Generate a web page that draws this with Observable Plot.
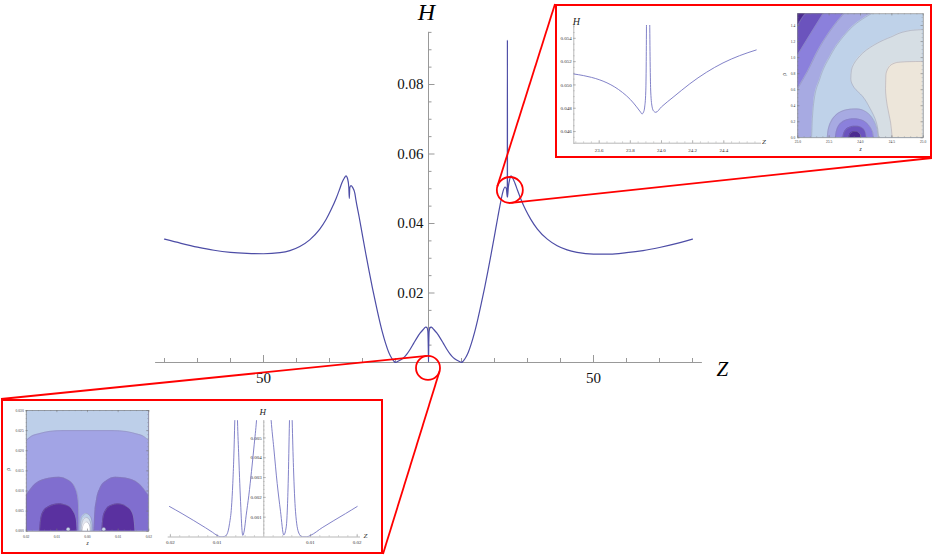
<!DOCTYPE html>
<html><head><meta charset="utf-8">
<script src="https://cdn.jsdelivr.net/npm/d3@7"></script>
<script src="https://cdn.jsdelivr.net/npm/@observablehq/plot@0.6"></script>
<style>
html,body{margin:0;padding:0;background:#fff;}
#stage{position:relative;width:932px;height:555px;overflow:hidden;}
#stage svg{position:absolute;left:0;top:0;}
.box{position:absolute;box-sizing:border-box;border:2px solid #f00;background:#fff;}
</style></head>
<body><div id="stage"></div>
<script>
// ================= DATA =================
// main curve H(Z)
const mainZ = [-80,-75,-70,-65,-60,-55,-50,-45,-42,-39,-36,-33,-31,-29.5,-28,-27,-26.2,-25.5,-25.0,-24.5,-24.15,-24.0,-23.85,-23.5,-23.0,-22.3,
  -22,-21,-20,-19,-18,-17,-16,-15,-14,-13,-12,-11,-10.5,-10,-9.5,-8.5,-7.5,-6.5,-5.5,-4.5,-3.5,-2.5,-1.5,-0.9,-0.5,-0.2,-0.06,0,
  0.06,0.2,0.5,0.9,1.5,2.5,3.5,4.5,5.5,6.5,7.5,8.5,9.5,10,10.5,11,12,13,14,15,16,17,18,19,20,21,22,22.6,23.2,23.6,23.88,23.91,23.94,
  24.2,24.6,25.0,25.5,26.2,27,28,29.5,31,33,36,39,42,45,50,55,60,65,70,75,80];
const mainH = [0.0355,0.0343,0.0332,0.0323,0.0317,0.0314,0.0313,0.0316,0.0322,0.0334,0.0353,0.0383,0.0412,0.0440,0.0472,0.0497,0.0518,0.0531,0.0537,0.0528,0.0505,0.0472,0.0503,0.0509,0.0504,0.0486,
  0.0468,0.0418,0.0365,0.0313,0.0263,0.0215,0.0170,0.0127,0.0088,0.0055,0.0028,0.0010,0.0004,0.0000,0.0002,0.0007,0.0014,0.0025,0.0039,0.0055,0.0071,0.0085,0.0096,0.0102,0.0101,0.0090,0.0040,0.0002,
  0.0040,0.0090,0.0101,0.0102,0.0096,0.0085,0.0071,0.0055,0.0039,0.0025,0.0014,0.0007,0.0002,0.0000,0.0004,0.0010,0.0028,0.0055,0.0088,0.0127,0.0170,0.0215,0.0263,0.0313,0.0365,0.0418,0.0468,0.0493,0.0505,0.0500,0.0476,0.0928,0.0476,
  0.0505,0.0527,0.0537,0.0531,0.0516,0.0495,0.0470,0.0438,0.0412,0.0384,0.0355,0.0336,0.0324,0.0317,0.0312,0.0312,0.0316,0.0322,0.0331,0.0342,0.0355];
const mainXTicks = [-50, 50];
const mainXTickLabels = ["50", "50"];
const mainYTicks = [0.02, 0.04, 0.06, 0.08];
const mainYTickLabels = ["0.02", "0.04", "0.06", "0.08"];

// top-right inset: zoom of H near Z = 23.9
const topZ = [23.437,23.50,23.55,23.60,23.65,23.70,23.75,23.80,23.84,23.865,23.875,23.885,23.892,23.899,23.902,23.904,23.914,23.924,23.927,23.931,23.94,23.95,23.963,24.00,24.074,24.13,24.181,24.288,24.395,24.501,24.608];
const topH = [0.05094,0.05080,0.05065,0.05045,0.05018,0.04982,0.04935,0.04875,0.04812,0.04768,0.04751,0.04768,0.04810,0.04940,0.0520,0.0560,0.0700,0.0560,0.0520,0.04940,0.04810,0.04775,0.04765,0.04812,0.04894,0.04955,0.05009,0.05108,0.05189,0.05251,0.05300];
const topXTicks = [23.6, 23.8, 24.0, 24.2, 24.4];
const topXTickLabels = ["23.6", "23.8", "24.0", "24.2", "24.4"];
const topYTicks = [0.046, 0.048, 0.050, 0.052, 0.054];
const topYTickLabels = ["0.046", "0.048", "0.050", "0.052", "0.054"];

// bottom-left inset: zoom of H near Z = 0
const bottomZ = [-0.0202,-0.0175,-0.0150,-0.0125,-0.0110,-0.0100,-0.0092,-0.0084,-0.00784,-0.00734,-0.00692,-0.00664,-0.00642,-0.00621,-0.0059,-0.00563,-0.00535,-0.00514,-0.00492,-0.00471,-0.0045,-0.0042,-0.00377,-0.0032,-0.00264,-0.00206,-0.00156,-0.0010,0,
  0.0010,0.00158,0.00214,0.00287,0.00358,0.00428,0.0048,0.00522,0.0055,0.0058,0.00608,0.00636,0.00679,0.0075,0.0082,0.0092,0.0100,0.0125,0.0150,0.0175,0.0200];
const bottomH = [0.00154,0.00118,0.00083,0.00047,0.00024,0.00008,0.00001,0.00003,0.00016,0.00067,0.0015,0.00269,0.00403,0.00588,0.0090,0.00588,0.00403,0.00269,0.0015,0.00049,0.00008,0.0003,0.0011,0.00211,0.0033,0.00465,0.00588,0.0080,0.0100,
  0.0080,0.00588,0.0045,0.0027,0.0013,0.0001,0.0005,0.0027,0.00588,0.0090,0.00588,0.0035,0.0013,0.0002,0.00001,0.00001,0.00008,0.00047,0.00083,0.00118,0.00154];
const bottomXTicks = [-0.02, -0.01, 0.01, 0.02];
const bottomXTickLabels = ["0.02", "0.01", "0.01", "0.02"];
const bottomYTicks = [0.001, 0.002, 0.003, 0.004, 0.005];
const bottomYTickLabels = ["0.001", "0.002", "0.003", "0.004", "0.005"];

// top-right contour plot (z, rho) band boundaries
const trDarkest = [[23.0,1.40],[23.053,1.475],[23.122,1.546]];
const trDark = [[23.0,1.034],[23.122,1.192],[23.255,1.359],[23.404,1.546]];
const trMedium = [[23.0,0.611],[23.043,0.673],[23.149,0.818],[23.335,1.109],[23.521,1.338],[23.734,1.546]];
const trLavender = [[23.0,0],[23.218,0],[23.229,0.195],[23.255,0.445],[23.351,0.735],[23.521,1.026],[23.787,1.317],[24.170,1.546]];
const trGrey = [[24.29,0],[24.25,0.20],[24.15,0.37],[24.03,0.52],[23.90,0.625],[23.845,0.735],[23.855,0.84],[23.95,0.985],[24.16,1.13],[24.48,1.255],[24.80,1.338],[25.0,1.35]];
const trBeige = [[24.505,0],[24.479,0.195],[24.426,0.403],[24.399,0.611],[24.404,0.777],[24.452,0.881],[24.559,0.935],[24.745,0.949],[25.0,0.952]];
const trRing1 = [[23.47,0],[23.49,0.12],[23.55,0.23],[23.65,0.31],[23.78,0.35],[23.90,0.36],[24.02,0.35],[24.13,0.30],[24.21,0.22],[24.26,0.12],[24.28,0]];
const trRing2 = [[23.60,0],[23.615,0.08],[23.66,0.16],[23.75,0.215],[23.90,0.237],[24.04,0.215],[24.13,0.16],[24.19,0.08],[24.21,0]];
const trRing3 = [[23.72,0],[23.735,0.06],[23.78,0.11],[23.86,0.14],[23.91,0.145],[23.98,0.14],[24.05,0.11],[24.085,0.06],[24.095,0]];
const trRing4 = [[23.815,0],[23.83,0.045],[23.87,0.073],[23.91,0.079],[23.955,0.073],[23.995,0.045],[24.01,0]];
const trXTicks = [23.0, 23.5, 24.0, 24.5, 25.0];
const trXTickLabels = ["23.0", "23.5", "24.0", "24.5", "25.0"];
const trYTicks = [0, 0.2, 0.4, 0.6, 0.8, 1.0, 1.2, 1.4];
const trYTickLabels = ["0.0", "0.2", "0.4", "0.6", "0.8", "1.0", "1.2", "1.4"];

// bottom-left contour plot (z, rho) band boundaries
const blTop = [[-0.02,0.0225],[-0.0185,0.0235],[-0.0159,0.0242],[-0.0125,0.0248],[-0.008,0.0250],[0,0.0250],[0.008,0.0250],[0.0125,0.0248],[0.0159,0.0242],[0.0185,0.0235],[0.02,0.0225]];
const blMedL = [[-0.02,0.00887],[-0.01696,0.01177],[-0.01261,0.01318],[-0.00935,0.01343],[-0.00609,0.0126],[-0.00391,0.01052],[-0.00304,0.00762],[-0.00287,0.0035],[-0.00283,0]];
const blMedR = [[0.0021,0],[0.0023,0.0035],[0.0029,0.0076],[0.0040,0.0105],[0.0063,0.0126],[0.0091,0.01343],[0.0124,0.0132],[0.0168,0.0118],[0.02,0.00887]];
const blDarkL = [[-0.01565,0],[-0.01533,0.00265],[-0.01457,0.00472],[-0.01261,0.00613],[-0.00935,0.0068],[-0.00663,0.00638],[-0.00467,0.00497],[-0.0037,0.00307],[-0.00337,0]];
const blDarkR = [[0.0047,0],[0.0050,0.0031],[0.0058,0.0050],[0.0076,0.0064],[0.0100,0.0068],[0.0128,0.0061],[0.0145,0.0047],[0.0152,0.0027],[0.0155,0]];
const blRing1 = [[-0.0024,0],[-0.0023,0.0022],[-0.0017,0.0037],[-0.0004,0.0044],[0.0009,0.0037],[0.0015,0.0022],[0.0016,0]];
const blRing2 = [[-0.0020,0],[-0.0019,0.0017],[-0.0014,0.0029],[-0.0004,0.0034],[0.0006,0.0029],[0.0011,0.0017],[0.0012,0]];
const blRing3 = [[-0.0017,0],[-0.0016,0.0011],[-0.0011,0.0020],[-0.0004,0.0023],[0.0003,0.0020],[0.0008,0.0011],[0.0009,0]];
const blDots = [[-0.0063,0.0005],[0.0053,0.0005]];
const blXTicks = [-0.02, -0.01, 0, 0.01, 0.02];
const blXTickLabels = ["0.02", "0.01", "0.00", "0.01", "0.02"];
const blYTicks = [0, 0.005, 0.010, 0.015, 0.020, 0.025, 0.030];
const blYTickLabels = ["0.000", "0.005", "0.010", "0.015", "0.020", "0.025", "0.030"];

// zoomed spots on the main chart (Z, H)
const zoomSpots = [{z: 24.8, h: 0.0495}, {z: 0, h: -0.0017}];

// ================= RENDER =================
const W = 932, H = 555;
const serif = "'Liberation Serif','Times New Roman',serif";
const axisC = "#999";
const curveC = "#4d4da6";
const insetCurveC = "#7474c2";
const stage = document.getElementById("stage");

// ---- main chart ----
const xR = [164, 692], yR = [362, 84];
const mkx = (80 - -80) / (xR[1] - xR[0]);   // data per px
const mky = 0.08 / (yR[0] - yR[1]);
const mainData = mainZ.map((z, i) => ({z, h: mainH[i]}));
const xMinorMain = d3.range(-80, 81, 10).filter(d => d !== 0 && Math.abs(d) !== 50);
const yMinorMain = d3.range(1, 20).map(i => i * 0.005).filter(d => !mainYTicks.some(t => Math.abs(t - d) < 1e-9));

const main = Plot.plot({
  width: W, height: H,
  x: {domain: [-80, 80], range: xR, axis: null},
  y: {domain: [0, 0.08], range: yR, axis: null},
  style: {background: "transparent", overflow: "visible"},
  marks: [
    Plot.ruleY([0], {x1: -82.7, x2: 83, stroke: axisC, strokeWidth: 1}),
    Plot.ruleX([0], {y1: 0, y2: 0.095, stroke: axisC, strokeWidth: 1}),
    Plot.ruleX(xMinorMain, {y1: 0, y2: 4 * mky, stroke: axisC}),
    Plot.ruleX(mainXTicks, {y1: 0, y2: 7 * mky, stroke: axisC}),
    Plot.ruleY(yMinorMain, {x1: 0, x2: 3.5 * mkx, stroke: axisC}),
    Plot.ruleY(mainYTicks, {x1: 0, x2: 6.5 * mkx, stroke: axisC}),
    Plot.text(mainYTicks, {x: 0, y: d => d, text: (d, i) => mainYTickLabels[i], textAnchor: "end", dx: -5, fontSize: 15, fontFamily: serif, fill: "#111"}),
    Plot.text(mainXTicks, {x: d => d, y: 0, text: (d, i) => mainXTickLabels[i], dy: 16, fontSize: 15, fontFamily: serif, fill: "#111"}),
    Plot.text(["H"], {x: 0, y: 0.095, text: d => d, dy: -20, dx: -2, fontSize: 24, fontStyle: "italic", fontFamily: serif, fill: "#000"}),
    Plot.text(["Z"], {x: 83, y: 0, text: d => d, dx: 20, dy: 7, fontSize: 21, fontStyle: "italic", fontFamily: serif, fill: "#000"}),
    Plot.line(mainData, {x: "z", y: "h", stroke: curveC, strokeWidth: 1.2, curve: "monotone-x"})
  ]
});
stage.appendChild(main);

// ---- boxes ----
const topBox = {l: 555, t: 4, w: 377, h: 154};
const botBox = {l: 1, t: 399, w: 382, h: 155};
for (const b of [topBox, botBox]) {
  const d = document.createElement("div");
  d.className = "box";
  Object.assign(d.style, {left: b.l + "px", top: b.t + "px", width: b.w + "px", height: b.h + "px"});
  stage.appendChild(d);
}

// ---- inset helper ----
function inset(box, xd, yd, marks) {
  return Plot.plot({
    width: W, height: H,
    marginLeft: box.l, marginRight: W - box.r, marginTop: box.t, marginBottom: H - box.b,
    x: {domain: xd, axis: null}, y: {domain: yd, axis: null},
    style: {background: "transparent", overflow: "visible"},
    marks
  });
}
const txt = (size, extra = {}) => ({fontSize: size, fontFamily: serif, fill: "#333", ...extra});
function safeAppend(fn) { try { stage.appendChild(fn()); } catch (e) { console.error(e); } }

// ---- top-right H inset ----
safeAppend(() => {
  const box = {l: 573.3, r: 761, t: 25, b: 142.7};
  const xd = [23.437, 24.642], yd = [0.045, 0.0551];
  const kx = (xd[1] - xd[0]) / (box.r - box.l), ky = (yd[1] - yd[0]) / (box.b - box.t);
  const data = topZ.map((z, i) => ({z, h: topH[i]}));
  const xMinor = d3.range(0, 24).map(i => 23.45 + i * 0.05);
  const yMinor = d3.range(0, 21).map(i => 0.045 + i * 0.0005);
  return inset(box, xd, yd, [
    Plot.ruleX([xd[0]], {stroke: axisC, strokeWidth: 0.7}),
    Plot.ruleY([yd[0]], {stroke: axisC, strokeWidth: 0.7}),
    Plot.ruleX(xMinor, {y1: yd[0], y2: yd[0] + 1.3 * ky, stroke: axisC, strokeWidth: 0.5}),
    Plot.ruleX(topXTicks, {y1: yd[0], y2: yd[0] + 2.6 * ky, stroke: axisC, strokeWidth: 0.6}),
    Plot.ruleY(yMinor, {x1: xd[0], x2: xd[0] + 1.3 * kx, stroke: axisC, strokeWidth: 0.5}),
    Plot.ruleY(topYTicks, {x1: xd[0], x2: xd[0] + 2.6 * kx, stroke: axisC, strokeWidth: 0.6}),
    Plot.text(topXTicks, {x: d => d, y: yd[0], text: (d, i) => topXTickLabels[i], dy: 7, ...txt(5)}),
    Plot.text(topYTicks, {x: xd[0], y: d => d, text: (d, i) => topYTickLabels[i], textAnchor: "end", dx: -2, ...txt(5)}),
    Plot.text(["H"], {frameAnchor: "top-left", text: d => d, dy: -7.5, dx: -1, ...txt(10, {fontStyle: "italic", fill: "#222"})}),
    Plot.text(["Z"], {frameAnchor: "bottom-right", text: d => d, dx: 4.5, dy: 1, ...txt(7, {fontStyle: "italic", fill: "#222"})}),
    Plot.line(data, {x: "z", y: "h", stroke: insetCurveC, strokeWidth: 0.9, curve: "monotone-x", clip: true})
  ]);
});

// ---- contour frame helper ----
function frameMarks(box, xd, yd, xt, xl, yt, yl, xMinor, yMinor, lblSize, xdy, ydx) {
  const kx = (xd[1] - xd[0]) / (box.r - box.l), ky = (yd[1] - yd[0]) / (box.b - box.t);
  return [
    Plot.ruleX(xMinor, {y1: yd[0], y2: yd[0] + 1.1 * ky, stroke: "#888", strokeWidth: 0.4}),
    Plot.ruleX(xMinor, {y1: yd[1], y2: yd[1] - 1.1 * ky, stroke: "#888", strokeWidth: 0.4}),
    Plot.ruleX(xt, {y1: yd[0], y2: yd[0] + 2.2 * ky, stroke: "#777", strokeWidth: 0.5}),
    Plot.ruleX(xt, {y1: yd[1], y2: yd[1] - 2.2 * ky, stroke: "#777", strokeWidth: 0.5}),
    Plot.ruleY(yMinor, {x1: xd[0], x2: xd[0] + 1.1 * kx, stroke: "#888", strokeWidth: 0.4}),
    Plot.ruleY(yMinor, {x1: xd[1], x2: xd[1] - 1.1 * kx, stroke: "#888", strokeWidth: 0.4}),
    Plot.ruleY(yt, {x1: xd[0], x2: xd[0] + 2.2 * kx, stroke: "#777", strokeWidth: 0.5}),
    Plot.ruleY(yt, {x1: xd[1], x2: xd[1] - 2.2 * kx, stroke: "#777", strokeWidth: 0.5}),
    Plot.frame({stroke: "#777", strokeWidth: 0.6}),
    Plot.text(xt, {x: d => d, y: yd[0], text: (d, i) => xl[i], dy: xdy, ...txt(lblSize)}),
    Plot.text(yt, {x: xd[0], y: d => d, text: (d, i) => yl[i], textAnchor: "end", dx: ydx, ...txt(lblSize)})
  ];
}
const bandStroke = {stroke: "#8a8aa6", strokeWidth: 0.5, strokeOpacity: 0.8, clip: true};

// ---- top-right contour ----
safeAppend(() => {
  const box = {l: 797.3, r: 922.7, t: 13.3, b: 137.3};
  const xd = [23.0, 25.0], yd = [0, 1.546];
  const top = yd[1];
  const ax = {x: d => d[0], y1: d => d[1], y2: top, curve: "monotone-x", clip: true};
  const ln = {x: d => d[0], y: d => d[1], curve: "monotone-x", ...bandStroke};
  const ring = (arr, fill) => [
    Plot.areaY(arr, {x: d => d[0], y1: 0, y2: d => d[1], curve: "catmull-rom", fill, clip: true}),
    Plot.line(arr, {x: d => d[0], y: d => d[1], curve: "catmull-rom", ...bandStroke})
  ];
  return inset(box, xd, yd, [
    Plot.frame({fill: "#bfd2e9", stroke: null}),
    Plot.areaX(trGrey, {y: d => d[1], x1: d => d[0], x2: 25.0, curve: "monotone-y", fill: "#d6dee4", clip: true}),
    Plot.line(trGrey, {x: d => d[0], y: d => d[1], curve: "monotone-y", ...bandStroke}),
    Plot.areaX(trBeige, {y: d => d[1], x1: d => d[0], x2: 25.0, curve: "monotone-y", fill: "#ede6da", clip: true}),
    Plot.line(trBeige, {x: d => d[0], y: d => d[1], curve: "monotone-y", ...bandStroke}),
    Plot.areaY(trLavender, {...ax, fill: "#a7aae2"}), Plot.line(trLavender, ln),
    Plot.areaY(trMedium, {...ax, fill: "#8b80dc"}), Plot.line(trMedium, ln),
    Plot.areaY(trDark, {...ax, fill: "#6b53bd"}), Plot.line(trDark, ln),
    Plot.areaY(trDarkest, {...ax, fill: "#4b2b90"}), Plot.line(trDarkest, ln),
    ...ring(trRing1, "#a7aae2"), ...ring(trRing2, "#8b80dc"), ...ring(trRing3, "#6b53bd"), ...ring(trRing4, "#4b2b90"),
    ...frameMarks(box, xd, yd, trXTicks, trXTickLabels, trYTicks, trYTickLabels,
      d3.range(0, 21).map(i => 23 + i * 0.1), d3.range(0, 31).map(i => i * 0.05), 3.6, 4.4, -2.5),
    Plot.text(["ρ"], {frameAnchor: "left", text: d => d, dx: -14, rotate: -90, ...txt(6, {fill: "#222"})}),
    Plot.text(["z"], {frameAnchor: "bottom", text: d => d, dy: 13, ...txt(5.5, {fontStyle: "italic", fill: "#222"})})
  ]);
});

// ---- bottom-left contour ----
safeAppend(() => {
  const box = {l: 25.7, r: 148.3, t: 410, b: 530.7};
  const xd = [-0.02, 0.02], yd = [0, 0.030];
  const lobe = (arr, fill) => [
    Plot.areaY(arr, {x: d => d[0], y1: 0, y2: d => d[1], curve: "monotone-x", fill, clip: true}),
    Plot.line(arr, {x: d => d[0], y: d => d[1], curve: "monotone-x", ...bandStroke})
  ];
  const ring = (arr, fill) => [
    Plot.areaY(arr, {x: d => d[0], y1: 0, y2: d => d[1], curve: "catmull-rom", fill, clip: true}),
    Plot.line(arr, {x: d => d[0], y: d => d[1], curve: "catmull-rom", ...bandStroke})
  ];
  return inset(box, xd, yd, [
    Plot.frame({fill: "#a2a4e5", stroke: null}),
    Plot.areaY(blTop, {x: d => d[0], y1: d => d[1], y2: yd[1], curve: "monotone-x", fill: "#bdcfe9", clip: true}),
    Plot.line(blTop, {x: d => d[0], y: d => d[1], curve: "monotone-x", ...bandStroke}),
    ...lobe(blMedL, "#806ecf"), ...lobe(blMedR, "#806ecf"),
    ...lobe(blDarkL, "#5a31a0"), ...lobe(blDarkR, "#5a31a0"),
    ...ring(blRing1, "#bccfe8"), ...ring(blRing2, "#dde5ef"), ...ring(blRing3, "#ffffff"),
    Plot.dot(blDots, {x: d => d[0], y: d => d[1], r: 1.8, fill: "#c9d6ec", stroke: "#8a8aa6", strokeWidth: 0.4}),
    ...frameMarks(box, xd, yd, blXTicks, blXTickLabels, blYTicks, blYTickLabels,
      d3.range(0, 21).map(i => -0.02 + i * 0.002), d3.range(0, 31).map(i => i * 0.001), 3.6, 5.5, -2.5),
    Plot.text(["ρ"], {frameAnchor: "left", text: d => d, dx: -18, rotate: -90, ...txt(6, {fill: "#222"})}),
    Plot.text(["z"], {frameAnchor: "bottom", text: d => d, dy: 14, ...txt(5.5, {fontStyle: "italic", fill: "#222"})})
  ]);
});

// ---- bottom-left H inset ----
safeAppend(() => {
  const box = {l: 167.7, r: 360, t: 420, b: 536.5};
  const xd = [-0.02047, 0.02071], yd = [0, 0.00588];
  const kx = (xd[1] - xd[0]) / (box.r - box.l), ky = (yd[1] - yd[0]) / (box.b - box.t);
  const data = bottomZ.map((z, i) => ({z, h: bottomH[i]}));
  const xMinor = d3.range(0, 21).map(i => -0.02 + i * 0.002).filter(d => Math.abs(d) > 1e-9);
  const yMinor = d3.range(1, 30).map(i => i * 0.0002);
  return inset(box, xd, yd, [
    Plot.ruleX([0], {stroke: axisC, strokeWidth: 0.7}),
    Plot.ruleY([0], {stroke: axisC, strokeWidth: 0.7}),
    Plot.ruleX(xMinor, {y1: 0, y2: 1.3 * ky, stroke: axisC, strokeWidth: 0.5}),
    Plot.ruleX(bottomXTicks, {y1: 0, y2: 2.6 * ky, stroke: axisC, strokeWidth: 0.6}),
    Plot.ruleY(yMinor, {x1: 0, x2: 1.3 * kx, stroke: axisC, strokeWidth: 0.5}),
    Plot.ruleY(bottomYTicks, {x1: 0, x2: 2.6 * kx, stroke: axisC, strokeWidth: 0.6}),
    Plot.text(bottomXTicks, {x: d => d, y: 0, text: (d, i) => bottomXTickLabels[i], dy: 5.5, ...txt(5)}),
    Plot.text(bottomYTicks, {x: 0, y: d => d, text: (d, i) => bottomYTickLabels[i], textAnchor: "end", dx: -2, ...txt(5)}),
    Plot.text(["H"], {x: 0, y: yd[1], text: d => d, dy: -8.5, dx: -1, ...txt(9, {fontStyle: "italic", fill: "#222"})}),
    Plot.text(["Z"], {frameAnchor: "bottom-right", text: d => d, dx: 7, dy: 0.5, ...txt(7, {fontStyle: "italic", fill: "#222"})}),
    Plot.line(data, {x: "z", y: "h", stroke: insetCurveC, strokeWidth: 0.9, curve: "monotone-x", clip: true})
  ]);
});

// ---- red zoom circles and connectors ----
{
  const sx = main.scale("x"), sy = main.scale("y");
  const spots = zoomSpots.map((s, i) => ({cx: sx.apply(s.z), cy: sy.apply(s.h), r: i === 0 ? 13 : 12}));
  const links = [
    {s: 0, p: [topBox.l, topBox.t], sign: -1},
    {s: 0, p: [topBox.l + topBox.w, topBox.t + topBox.h], sign: 1},
    {s: 1, p: [botBox.l, botBox.t], sign: 1},
    {s: 1, p: [botBox.l + botBox.w, botBox.t + botBox.h], sign: -1}
  ];
  const ov = d3.create("svg").attr("width", W).attr("height", H).style("overflow", "visible");
  for (const L of links) {
    const c = spots[L.s];
    const dx = L.p[0] - c.cx, dy = L.p[1] - c.cy, d = Math.hypot(dx, dy);
    const a = Math.atan2(dy, dx) + L.sign * Math.acos(c.r / d);
    ov.append("line").attr("x1", c.cx + c.r * Math.cos(a)).attr("y1", c.cy + c.r * Math.sin(a))
      .attr("x2", L.p[0]).attr("y2", L.p[1]).attr("stroke", "#f00").attr("stroke-width", 1.8);
  }
  for (const c of spots) {
    ov.append("circle").attr("cx", c.cx).attr("cy", c.cy).attr("r", c.r)
      .attr("fill", "none").attr("stroke", "#f00").attr("stroke-width", 1.8);
  }
  stage.appendChild(ov.node());
}
</script>
</body></html>
